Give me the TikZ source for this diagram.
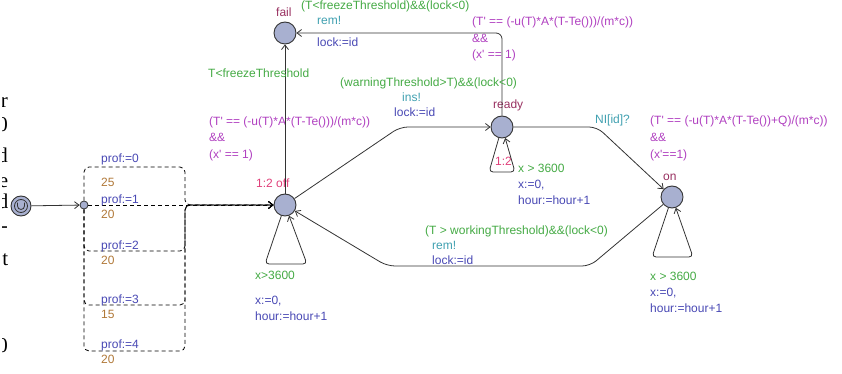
\documentclass[tikz,border=0pt]{standalone}
\usepackage{fontspec}
\setmainfont{Liberation Sans}
\newfontfamily\cutserif{Liberation Serif}
\usetikzlibrary{arrows.meta}
\definecolor{guardc}{HTML}{44AA44}
\definecolor{syncc}{HTML}{40A0B0}
\definecolor{updc}{HTML}{4848B4}
\definecolor{invc}{HTML}{B040C0}
\definecolor{namec}{HTML}{983060}
\definecolor{weightc}{HTML}{B07838}
\definecolor{ratec}{HTML}{E0407A}
\definecolor{locfill}{HTML}{A8B0D0}
\definecolor{linec}{HTML}{333333}
\newcommand{\pq}{\textquotesingle}
\begin{document}
\begin{tikzpicture}[x=1pt,y=-1pt,
  every node/.style={font=\fontsize{12}{14}\selectfont, inner sep=0pt},
  loc/.style={circle, minimum size=22pt, fill=locfill, draw=linec, line width=0.9pt},
  bpoint/.style={circle, minimum size=8pt, fill=locfill, draw=linec, line width=0.8pt},
  initloc/.style={circle, minimum size=20pt, fill=locfill, draw=linec, line width=0.9pt},
  edge/.style={draw=linec, line width=0.8pt, -{Straight Barb[length=4.5pt,width=7pt]}},
  pedge/.style={edge, draw=black, dash pattern=on 4pt off 3pt},
  lbl/.style={anchor=base west},
  guard/.style={lbl, text=guardc},
  sync/.style={lbl, text=syncc},
  upd/.style={lbl, text=updc},
  inv/.style={lbl, text=invc},
  lname/.style={lbl, text=namec},
  weight/.style={lbl, text=weightc},
  rate/.style={lbl, text=ratec},
  cut/.style={anchor=base east, font=\cutserif\fontsize{21}{22}\selectfont, text=black}
]
\useasboundingbox (0,0) rectangle (842,374);

% cropped text at the left margin
\begin{scope}
\clip (2.5,80) rectangle (12,370);
\node[cut] (c1) at (8,108) {r};
\node[cut] (c2) at (8,132) {0};
\node[cut] (c3) at (8,162) {d};
\node[cut] (c4) at (8.5,187) {e};
\node[cut] (c5) at (8.5,208) {d};
\node[cut] (c6) at (8,232) {-};
\node[cut] (c7) at (8.5,265) {t};
\node[cut] (c8) at (8,352) {0};
\end{scope}

% locations
\node[loc] (fail) at (285,33) {};
\node[loc] (off) at (285,205) {};
\node[loc] (ready) at (502,127) {};
\node[loc] (on) at (672,197) {};
\node[initloc] (init) at (21,206) {};
\draw[linec, line width=0.8pt] (init) circle[radius=6.5pt];
\draw[linec, line width=0.8pt] (17.5,202.5) -- (17.5,206) arc[start angle=180, end angle=0, radius=3.5] -- (24.5,202.5);
\node[bpoint] (bp) at (84,205) {};

% names
\node[lname] (nfail) at (276,17) {fail};
\node[lname] (nready) at (493,109) {ready};
\node[lname] (non) at (663,180) {on};
\node[rate] (noff) at (256,187) {1:2 off};
\node[rate] (rready) at (495,165) {1:2};

% invariants
\node[inv] (ioff1) at (209,126) {(T\pq{} == (-u(T)*A*(T-Te()))/(m*c))};
\node[inv] (ioff2) at (209,142) {\&\&};
\node[inv] (ioff3) at (209,158) {(x\pq{} == 1)};
\node[inv] (ir1) at (472,26) {(T\pq{} == (-u(T)*A*(T-Te()))/(m*c))};
\node[inv] (ir2) at (472,43) {\&\&};
\node[inv] (ir3) at (472,59) {(x\pq{} == 1)};
\node[inv] (ion1) at (650,125) {(T\pq{} == (-u(T)*A*(T-Te())+Q)/(m*c))};
\node[inv] (ion2) at (650,142) {\&\&};
\node[inv] (ion3) at (650,159) {(x\pq{}==1)};

% edges
\draw[edge] (init) -- (bp);
\draw[edge] (off) -- (fail);
\draw[edge, rounded corners=6pt] (ready) -- (502,33) -- (fail);
\draw[edge, rounded corners=8pt] (off) -- (400,127) -- (ready);
\draw[edge, rounded corners=8pt] (ready) -- (597,127) -- (on);
\draw[edge, rounded corners=8pt] (on) -- (590,266) -- (387,266) -- (off);
\draw[edge, rounded corners=4pt] (off) -- (265,264) -- (307,264) -- (off);
\draw[edge, rounded corners=4pt] (ready) -- (489,172) -- (515,172) -- (ready);
\draw[edge, rounded corners=4pt] (on) -- (652,257) -- (693,257) -- (on);

% probabilistic branches
\draw[pedge, rounded corners=5pt] (bp) -- (84,167) -- (185,167) -- (185,205) -- (off);
\draw[pedge] (bp) -- (off);
\draw[pedge, rounded corners=5pt] (bp) -- (84,251) -- (185,251) -- (185,205) -- (off);
\draw[pedge, rounded corners=5pt] (bp) -- (84,305) -- (185,305) -- (185,205) -- (off);
\draw[pedge, rounded corners=5pt] (bp) -- (84,351) -- (185,351) -- (185,205) -- (off);

\node[upd] (p0) at (101,163) {prof:=0};
\node[weight] (w0) at (101,186) {25};
\node[upd] (p1) at (101,203) {prof:=1};
\node[weight] (w1) at (101,218) {20};
\node[upd] (p2) at (101,249) {prof:=2};
\node[weight] (w2) at (101,264) {20};
\node[upd] (p3) at (101,303) {prof:=3};
\node[weight] (w3) at (101,318) {15};
\node[upd] (p4) at (101,348) {prof:=4};
\node[weight] (w4) at (101,363) {20};

% edge labels
\node[guard] (g1) at (301,10) {(T<freezeThreshold)\&\&(lock<0)};
\node[sync] (s1) at (317,25) {rem!};
\node[upd] (u1) at (317,47) {lock:=id};
\node[guard] (g2) at (208,78) {T<freezeThreshold};
\node[guard] (g3) at (340,87) {(warningThreshold>T)\&\&(lock<0)};
\node[sync] (s3) at (402,102) {ins!};
\node[upd] (u3) at (394,117) {lock:=id};
\node[sync] (s4) at (595,124) {NI[id]?};
\node[guard] (g5) at (425,234) {(T > workingThreshold)\&\&(lock<0)};
\node[sync] (s5) at (432,249) {rem!};
\node[upd] (u5) at (432,264) {lock:=id};
\node[guard] (g6) at (255,279) {x>3600};
\node[upd] (u6a) at (255,304) {x:=0,};
\node[upd] (u6b) at (255,320) {hour:=hour+1};
\node[guard] (g7) at (518,172) {x > 3600};
\node[upd] (u7a) at (518,188) {x:=0,};
\node[upd] (u7b) at (518,204) {hour:=hour+1};
\node[guard] (g8) at (650,280) {x > 3600};
\node[upd] (u8a) at (650,296) {x:=0,};
\node[upd] (u8b) at (650,312) {hour:=hour+1};
\end{tikzpicture}
\end{document}
